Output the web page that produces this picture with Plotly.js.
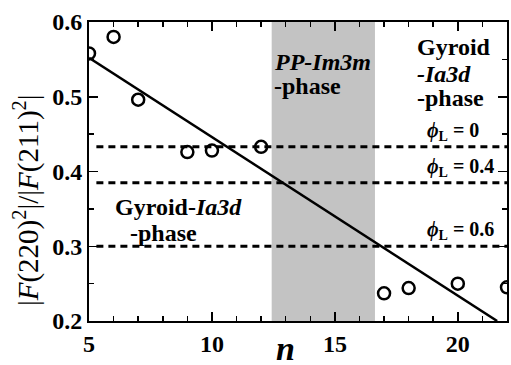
<!DOCTYPE html>
<html>
<head>
<meta charset="utf-8">
<script src="https://cdn.plot.ly/plotly-3.0.1.min.js"></script>
<style>
html,body{margin:0;padding:0;background:#fff;}
#chart{width:511px;height:365px;}
</style>
</head>
<body>
<div id="chart"></div>
<script>
// Data
const nValues = [5, 6, 7, 9, 10, 12, 17, 18, 20, 22];
const ratioValues = [0.558, 0.580, 0.496, 0.426, 0.428, 0.433, 0.237, 0.244, 0.250, 0.245];
const fitN = [5, 21.6];
const fitRatio = [0.552, 0.200];
const phiLevels = [0.433, 0.385, 0.300];
const phiLabels = ['0', '0.4', '0.6'];
const phiN = [5.3, 22];
const ppBand = [12.43, 16.63];
const xTicks = [5, 10, 15, 20];
const yTicks = [0.2, 0.3, 0.4, 0.5, 0.6];

const FONT = '"Liberation Serif", "DejaVu Serif", serif';

const traces = [];
phiLevels.forEach(function (lv) {
  traces.push({
    x: phiN, y: [lv, lv], mode: 'lines', showlegend: false, hoverinfo: 'skip',
    line: {color: '#000', width: 3, dash: '7px,5px'}
  });
});
traces.push({
  x: fitN, y: fitRatio, mode: 'lines', showlegend: false,
  line: {color: '#000', width: 2.5}
});
traces.push({
  x: nValues, y: ratioValues, mode: 'markers', showlegend: false,
  marker: {symbol: 'circle-open', size: 12, color: '#000', line: {width: 2.5, color: '#000'}}
});

const annots = [];
function lab(x, y, text, size) {
  annots.push({x: x, y: y, xref: 'x', yref: 'y', text: text, showarrow: false,
    xanchor: 'left', yanchor: 'middle',
    font: {family: FONT, size: size, color: '#000', weight: 'bold'}});
}
lab(ppBand[0] + 0.01, 0.546, '<i>PP-Im3m</i>', 24);
lab(ppBand[0] + 0.01, 0.515, '-phase', 24);
lab(18.25, 0.566, 'Gyroid', 24);
lab(18.25, 0.531, '<i>-Ia3d</i>', 24);
lab(18.25, 0.498, '-phase', 24);
lab(5.98, 0.353, 'Gyroid-<i>Ia3d</i>', 24);
lab(6.59, 0.318, '-phase', 24);
const phiY = [0.454, 0.406, 0.321];
phiLabels.forEach(function (t, i) {
  lab(18.66, phiY[i], '<i>ϕ</i><sub>L</sub> = ' + t, 20);
});
annots.push({xref: 'paper', yref: 'paper', x: -0.151, y: 0.404, textangle: -90,
  text: '|<i>F</i>(220)<sup>2</sup>|/|<i>F</i>(211)<sup>2</sup>|', showarrow: false,
  xanchor: 'center', yanchor: 'middle',
  font: {family: FONT, size: 29, color: '#000'}});
annots.push({xref: 'paper', yref: 'paper', x: 0.469, y: -0.093, text: '<i>n</i>', showarrow: false,
  xanchor: 'center', yanchor: 'middle',
  font: {family: FONT, size: 34, color: '#000', weight: 'bold'}});

const axisCommon = {
  showgrid: false, zeroline: false, showline: true, linecolor: '#000', linewidth: 2,
  mirror: 'allticks', ticks: 'inside', ticklen: 9, tickwidth: 1.5, tickcolor: '#000',
  tickfont: {family: FONT, size: 24, color: '#000', weight: 'bold'}
};

const layout = {
  width: 511, height: 365,
  margin: {l: 89, r: 4, t: 22, b: 44},
  paper_bgcolor: '#fff', plot_bgcolor: '#fff',
  font: {family: FONT},
  xaxis: Object.assign({}, axisCommon, {
    range: [5, 22], tickvals: xTicks, ticktext: xTicks.map(String),
    minor: {dtick: 1, ticks: 'inside', ticklen: 5, tickwidth: 1.5, tickcolor: '#000'}
  }),
  yaxis: Object.assign({}, axisCommon, {
    range: [0.2, 0.6], tickvals: yTicks, ticktext: yTicks.map(function (v) { return v.toFixed(1); }),
    minor: {dtick: 0.05, ticks: 'inside', ticklen: 5, tickwidth: 1.5, tickcolor: '#000'}
  }),
  shapes: [{type: 'rect', xref: 'x', yref: 'paper', x0: ppBand[0], x1: ppBand[1], y0: 0, y1: 1,
    fillcolor: '#c3c3c3', line: {width: 0}, layer: 'below'}],
  annotations: annots
};

Plotly.newPlot('chart', traces, layout, {staticPlot: true, displayModeBar: false});
</script>
</body>
</html>
